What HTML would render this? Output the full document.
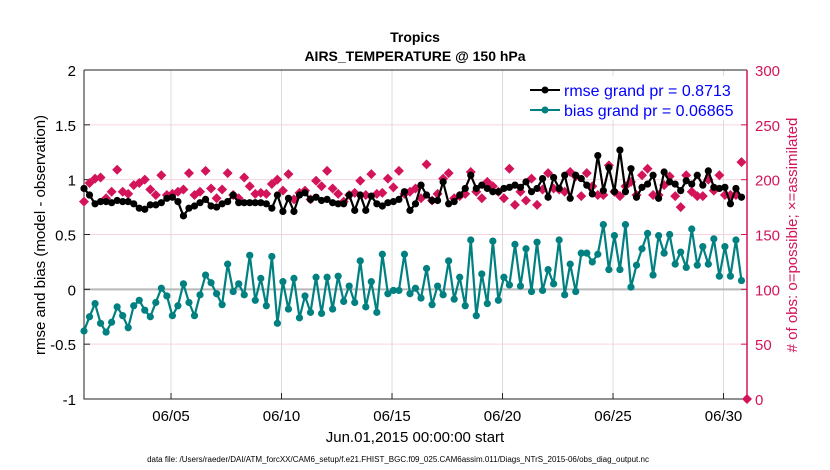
<!DOCTYPE html>
<html><head><meta charset="utf-8"><style>
body{margin:0;background:#fff;}
svg{display:block;font-family:"Liberation Sans",Arial,sans-serif;}
</style></head><body>
<svg id="chart" width="830" height="470" viewBox="0 0 830 470">
<g id="grid"></g>
<g id="axes"></g>
<g id="series"></g>
<text x="415" y="42" text-anchor="middle" font-size="14" font-weight="bold">Tropics</text>
<text x="415" y="61" text-anchor="middle" font-size="14" font-weight="bold">AIRS_TEMPERATURE @ 150 hPa</text>
<text transform="translate(45,235) rotate(-90)" text-anchor="middle" font-size="15">rmse and bias (model - observation)</text>
<text transform="translate(797,235) rotate(-90)" text-anchor="middle" font-size="15" fill="#d4145a"># of obs: o=possible; ×=assimilated</text>
<text x="415" y="442" text-anchor="middle" font-size="15">Jun.01,2015 00:00:00 start</text>
<text x="398" y="462" text-anchor="middle" font-size="8">data file: /Users/raeder/DAI/ATM_forcXX/CAM6_setup/f.e21.FHIST_BGC.f09_025.CAM6assim.011/Diags_NTrS_2015-06/obs_diag_output.nc</text>
<g id="legend">
<rect x="524" y="76" width="216" height="44" fill="#fff"/>
<g>
<line x1="530" y1="90" x2="560" y2="90" stroke="#000" stroke-width="2"/><circle cx="545" cy="90" r="3.5" fill="#000"/>
<text x="564" y="96" font-size="16" fill="#0000ff">rmse grand pr = 0.8713</text></g>
<g>
<line x1="530" y1="110" x2="560" y2="110" stroke="#008080" stroke-width="2"/><circle cx="545" cy="110" r="3.5" fill="#008080"/>
<text x="564" y="116" font-size="16" fill="#0000ff">bias grand pr = 0.06865</text></g>
</g>
</svg>
<script>
const xTickLabels = ["06/05","06/10","06/15","06/20","06/25","06/30"];
const xTickDays = [4,9,14,19,24,29];
const leftTicks = [-1,-0.5,0,0.5,1,1.5,2];
const leftTickLabels = ["-1","-0.5","0","0.5","1","1.5","2"];
const rightTicks = [0,50,100,150,200,250,300];
const rmse = [0.92,0.86,0.78,0.80,0.80,0.79,0.81,0.80,0.80,0.78,0.74,0.73,0.77,0.77,0.79,0.83,0.84,0.80,0.67,0.74,0.76,0.79,0.82,0.76,0.75,0.78,0.80,0.86,0.79,0.79,
0.79,0.79,0.79,0.78,0.74,0.86,0.71,0.83,0.71,0.86,0.88,0.82,0.84,0.81,0.82,0.79,0.78,0.78,0.86,0.72,0.86,0.72,0.85,0.78,0.76,0.79,0.80,0.82,0.89,0.72,
0.78,0.95,0.86,0.81,0.81,0.98,0.78,0.80,0.86,0.92,1.04,0.92,0.95,0.92,0.89,0.89,0.92,0.93,0.95,0.93,0.98,0.89,0.92,1.01,0.84,1.02,0.92,1.04,0.83,1.04,
1.01,0.95,0.87,1.22,0.90,1.11,0.89,1.27,0.89,1.10,0.84,0.93,0.96,1.04,0.83,1.07,0.98,0.96,0.90,0.99,0.96,1.04,0.95,1.08,0.93,0.92,0.93,0.78,0.92,0.84];
const bias = [-0.38,-0.25,-0.13,
-0.31,-0.39,-0.30,-0.16,-0.24,-0.35,-0.15,-0.10,-0.19,-0.25,-0.12,0.01,-0.06,-0.24,-0.15,0.05,-0.12,-0.24,-0.05,0.13,0.06,-0.04,-0.14,0.23,-0.02,0.05,-0.05,0.31,-0.10,0.10,-0.15,0.30,-0.31,0.07,-0.18,0.10,-0.26,-0.06,-0.21,0.11,
-0.22,0.11,-0.18,0.12,-0.11,0.03,-0.12,0.26,-0.16,0.07,-0.21,0.32,-0.04,-0.01,-0.01,0.32,-0.04,0.01,-0.08,0.19,-0.14,0.03,-0.05,0.26,-0.09,0.11,-0.15,0.45,-0.24,0.14,-0.13,0.44,-0.10,0.11,0.04,0.41,0.03,0.37,-0.02,
0.43,-0.01,0.18,0.05,0.45,-0.05,0.23,-0.02,0.33,0.33,0.25,0.32,0.59,0.18,0.49,0.18,0.59,0.02,0.22,0.37,0.51,0.13,0.49,0.33,0.50,0.23,0.34,0.20,0.55,0.22,0.39,0.23,0.46,0.12,0.39,0.12,0.45,0.08];
const obsCount = [180,197,201,202,183,189,209,189,187,195,197,200,191,186,204,186,187,189,191,206,186,189,208,192,183,191,206,186,183,202,
194,187,188,187,196,200,190,205,182,188,190,182,199,194,208,192,187,180,186,188,199,186,205,187,188,201,193,208,187,189,
192,183,214,181,187,201,206,183,185,187,207,189,183,198,194,189,183,210,177,189,181,201,177,191,206,192,191,189,207,203,
185,206,194,186,186,213,189,185,194,198,186,204,210,186,186,195,203,185,175,204,189,185,185,200,190,204,186,186,186,216,0];

const NS="http://www.w3.org/2000/svg";
const X0=84,X1=747,Y0=399,Y1=70,D0=0.0625,D1=30.0625,STEP=0.25;
const RED="#d4145a",TEAL="#008080";
function xs(d){return X0+(d-D0)/(D1-D0)*(X1-X0);}
function yl(v){return Y0-(v+1)/3*(Y0-Y1);}
function yr(v){return Y0-v/300*(Y0-Y1);}
function mk(tag,attrs,parent){const e=document.createElementNS(NS,tag);for(const k in attrs)e.setAttribute(k,attrs[k]);parent.appendChild(e);return e;}
const grid=document.getElementById('grid'),axes=document.getElementById('axes'),series=document.getElementById('series');

for(let i=0;i<rightTicks.length;i++){
  const y=yr(rightTicks[i]);
  const l=mk('line',{x1:X0,x2:X1,y1:y,y2:y,stroke:'#f7d3e0','stroke-width':1},grid);
  
  
}
for(let i=0;i<xTickDays.length;i++){
  const x=xs(xTickDays[i]);
  const l=mk('line',{x1:x,x2:x,y1:Y1,y2:Y0,stroke:'#dcdcdc','stroke-width':1},grid);
  
  
  const t=mk('line',{x1:x,x2:x,y1:Y0,y2:Y0-6,stroke:'#222'},axes);
  
  
  const tt=mk('text',{x:x,y:Y0+22,'text-anchor':'middle','font-size':15},axes);
  tt.textContent=xTickLabels[i];
  
  
}
const zl=mk('line',{x1:X0,x2:X1,y1:yl(0),y2:yl(0),stroke:'#b8b8b8','stroke-width':2},grid);



for(let i=0;i<leftTicks.length;i++){
  const y=yl(leftTicks[i]);
  const t=mk('line',{x1:X0,x2:X0+6,y1:y,y2:y,stroke:'#222'},axes);
  
  
  const tt=mk('text',{x:X0-8,y:y+6,'text-anchor':'end','font-size':15},axes);
  tt.textContent=leftTickLabels[i];
  
  
}
for(let i=0;i<rightTicks.length;i++){
  const y=yr(rightTicks[i]);
  const t=mk('line',{x1:X1,x2:X1-6,y1:y,y2:y,stroke:RED},axes);
  
  
  const tt=mk('text',{x:X1+8,y:y+6,'font-size':15,fill:RED},axes);
  tt.textContent=String(rightTicks[i]);
  
  
}
const ax1=mk('path',{d:`M${X0},${Y1}V${Y0}H${X1}M${X0},${Y1}H${X1}`,stroke:'#222',fill:'none','stroke-width':1},axes);


const ax2=mk('line',{x1:X1,x2:X1,y1:Y1,y2:Y0,stroke:RED,'stroke-width':1.5},axes);



// obs count markers
for(let i=0;i<obsCount.length;i++){
  const x=xs(D0+i*STEP),y=yr(obsCount[i]);
  const p=mk('path',{d:`M${x},${y-5}L${x+5},${y}L${x},${y+5}L${x-5},${y}Z`,fill:RED},series);
  
  
}
function drawLine(arr,color,name){
  const pts=arr.map((v,i)=>xs(D0+i*STEP).toFixed(1)+','+yl(v).toFixed(1)).join(' ');
  const pl=mk('polyline',{points:pts,fill:'none',stroke:color,'stroke-width':2.2},series);
  
  
  for(let i=0;i<arr.length;i++){
    const c=mk('circle',{cx:xs(D0+i*STEP),cy:yl(arr[i]),r:3.6,fill:color},series);
    
    
  }
}
drawLine(bias,TEAL,'bias');
drawLine(rmse,'#000','rmse');
</script>
</body></html>
